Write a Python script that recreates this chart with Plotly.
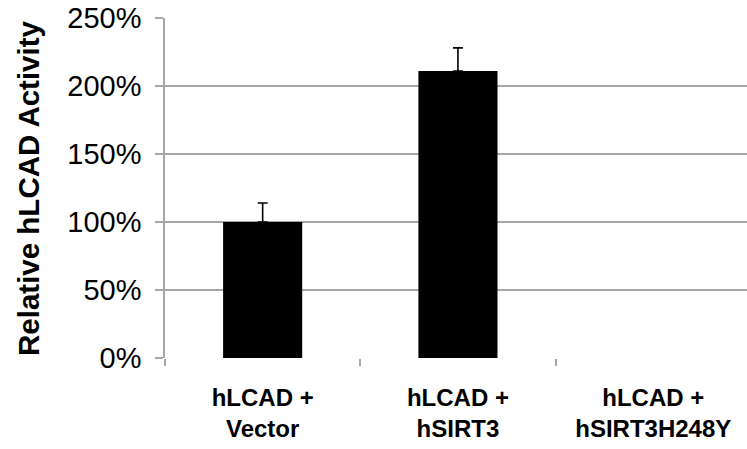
import plotly.graph_objects as go

categories = ["hLCAD +<br>Vector", "hLCAD +<br>hSIRT3", "hLCAD +<br>hSIRT3H248Y"]
values = [100, 211, None]
errors_plus = [14, 17, None]
errors_minus = [0, 0, None]
y_ticks = [0, 50, 100, 150, 200, 250]
y_tick_labels = ["0%", "50%", "100%", "150%", "200%", "250%"]
y_title = "Relative hLCAD Activity"

GRID = "#a6a6a6"
FONT = "Liberation Sans, Arial, Helvetica, sans-serif"

fig = go.Figure()
fig.add_trace(go.Bar(
    x=categories,
    y=values,
    marker=dict(color="black", line=dict(width=0)),
    width=0.405,
    error_y=dict(type="data", symmetric=False, array=errors_plus, arrayminus=errors_minus,
                 color="black", thickness=1.6, width=5),
    showlegend=False,
))

fig.update_layout(
    width=747, height=449,
    margin=dict(l=165, r=0, t=18, b=91),
    paper_bgcolor="white", plot_bgcolor="white",
    font=dict(family=FONT, color="black"),
    xaxis=dict(
        type="category",
        range=[-0.5, 2.48],
        tickson="boundaries",
        ticks="outside", ticklen=7, tickcolor=GRID, tickwidth=1.5,
        showgrid=False,
        showline=False,
        tickfont=dict(size=24, family=FONT, color="black", weight="bold"),
        ticklabelstandoff=23,
    ),
    yaxis=dict(
        range=[0, 250],
        tickvals=y_ticks, ticktext=y_tick_labels,
        showgrid=True, gridcolor=GRID, gridwidth=1.5,
        showline=True, linecolor=GRID, linewidth=1.5,
        ticks="outside", ticklen=8, tickcolor=GRID, tickwidth=1.5,
        tickfont=dict(size=29, family=FONT, color="black"),
        ticklabelstandoff=8,
        zeroline=False,
    ),
    annotations=[dict(
        text=y_title, textangle=-90, xref="paper", yref="paper",
        x=0, y=0.5, xshift=-137, xanchor="center", yanchor="middle",
        showarrow=False,
        font=dict(size=29.5, family=FONT, color="black", weight="bold"),
    )],
)

fig.write_html("out.html", config={"displayModeBar": False},
               post_script="document.body.style.margin='0';")
